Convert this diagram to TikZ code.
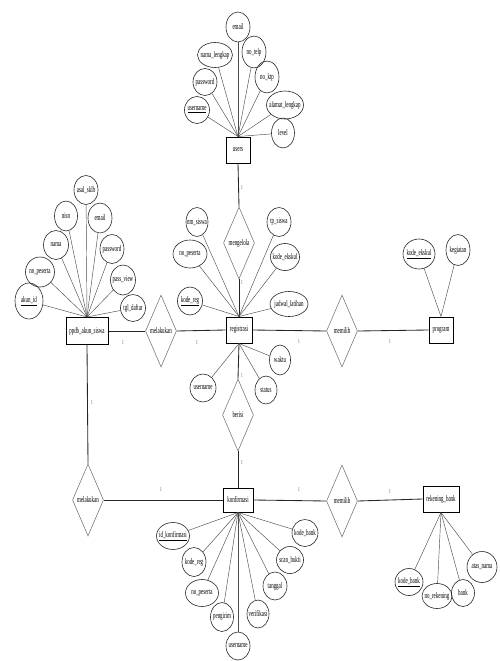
\documentclass[tikz,border=0pt]{standalone}
\usepackage{fontspec}
\setmainfont[FakeStretch=0.58]{Liberation Serif}
\usetikzlibrary{shapes.geometric}

\begin{document}
\begin{tikzpicture}[x=1pt,y=-1pt,
  every node/.style={font=\fontsize{8.5}{9.5}\selectfont},
  attr/.style n args={2}{ellipse, draw=black!85, line width=0.6pt, inner sep=0pt,
    minimum width=#1, minimum height=#2},
  entity/.style n args={2}{rectangle, draw=black, line width=1pt, inner sep=0pt,
    minimum width=#1, minimum height=#2},
  rel/.style={diamond, draw=black!55, line width=0.55pt, inner sep=0pt,
    minimum width=31pt, minimum height=72pt},
  att/.style={draw=black!70, line width=0.45pt},
  link/.style={draw=black!85, line width=0.85pt},
  card/.style={font=\fontsize{6}{6.5}\selectfont, text=black!70, inner sep=0pt}
]
\useasboundingbox (0,0) rectangle (499,661);

% ---------- entities ----------
\node[entity={24pt}{26pt}] (users) at (238,150) {users};
\node[entity={26pt}{26pt}] (registrasi) at (239,330) {registrasi};
\node[entity={24pt}{26pt}] (program) at (441,330) {program};
\node[entity={42pt}{27pt}] (ppdb) at (87,331) {ppdb\_akun\_siswa};
\node[entity={30pt}{24pt}] (konfirmasi) at (238,500) {konfirmasi};
\node[entity={36pt}{26pt}] (rekening) at (441,499) {rekening\_bank};

% ---------- relationships ----------
\node[rel, label=center:{mengelola}] (mengelola) at (239,243) {};
\node[rel, label=center:{melakukan}] (melakukanA) at (161,331) {};
\node[rel, label=center:{memilih}] (memilihA) at (342,331) {};
\node[rel, label=center:{berisi}] (berisi) at (238,415) {};
\node[rel, label=center:{melakukan}] (melakukanB) at (88,500) {};
\node[rel, label=center:{memilih}] (memilihB) at (342,501) {};

% ---------- relationship links ----------
\draw[link] (users.south) -- (mengelola.north);
\draw[link] (mengelola.south) -- (registrasi.north);
\draw[link] (ppdb.east) -- (melakukanA.west);
\draw[link] (melakukanA.east) -- (registrasi.west);
\draw[link] (registrasi.east) -- (memilihA.west);
\draw[link] (memilihA.east) -- (program.west);
\draw[link] (registrasi.south) -- (berisi.north);
\draw[link] (berisi.south) -- (konfirmasi.north);
\draw[link] (ppdb.south) -- (melakukanB.north);
\draw[link] (melakukanB.east) -- (konfirmasi.west);
\draw[link] (konfirmasi.east) -- (memilihB.west);
\draw[link] (memilihB.east) -- (rekening.west);

% ---------- cardinalities ----------
\node[card] (c1) at (242,188) {1};
\node[card] (c2) at (242,283) {1};
\node[card] (c3) at (123,343) {1};
\node[card] (c4) at (197,343) {1};
\node[card] (c5) at (299,342) {1};
\node[card] (c6) at (390,342) {1};
\node[card] (c7) at (242,376) {1};
\node[card] (c8) at (242,463) {1};
\node[card] (c9) at (92,403) {1};
\node[card] (c10) at (161,490) {1};
\node[card] (c11) at (299,490) {1};
\node[card] (c12) at (390,492) {1};

% ---------- users attributes ----------
\node[attr={24pt}{30pt}, label=center:{email}] (u1) at (238,27) {};
\node[attr={35pt}{25pt}, label=center:{nama\_lengkap}] (u2) at (215,55) {};
\node[attr={24pt}{32pt}, label=center:{no\_telp}] (u3) at (254,52) {};
\node[attr={24pt}{27pt}, label=center:{password}] (u4) at (205,82) {};
\node[attr={24pt}{32pt}, label=center:{no\_ktp}] (u5) at (267,77) {};
\node[attr={25pt}{27pt}, label=center:{\underline{username}}] (u6) at (197,110) {};
\node[attr={37pt}{28pt}, label=center:{alamat\_lengkap}] (u7) at (285,105) {};
\node[attr={23pt}{30pt}, label=center:{level}] (u8) at (283,133) {};
\foreach \a in {u1,u2,u3,u4,u5,u6,u7,u8} \draw[att] (users.north) -- (\a);

% ---------- ppdb_akun_siswa attributes ----------
\node[attr={24pt}{29pt}, label=center:{asal\_sklh}] (p1) at (86,190) {};
\node[attr={23pt}{30pt}, label=center:{nisn}] (p2) at (66,216) {};
\node[attr={24pt}{30pt}, label=center:{email}] (p3) at (100,218) {};
\node[attr={25pt}{29pt}, label=center:{nama}] (p4) at (56,245) {};
\node[attr={24pt}{29pt}, label=center:{password}] (p5) at (112,249) {};
\node[attr={29pt}{30pt}, label=center:{no\_peserta}] (p6) at (40,272) {};
\node[attr={25pt}{30pt}, label=center:{pass\_view}] (p7) at (123,280) {};
\node[attr={28pt}{36pt}, label=center:{\underline{akun\_id}}] (p8) at (29,301) {};
\node[attr={25pt}{27pt}, label=center:{tgl\_daftar}] (p9) at (133,308) {};
\foreach \a in {p1,p2,p3,p4,p5,p6,p7,p8,p9} \draw[att] (ppdb.north) -- (\a);

% ---------- registrasi attributes ----------
\node[attr={22pt}{29pt}, label=center:{nm\_siswa}] (r1) at (197,222) {};
\node[attr={24pt}{29pt}, label=center:{tp\_siswa}] (r2) at (279,222) {};
\node[attr={34pt}{28pt}, label=center:{no\_peserta}] (r3) at (190,254) {};
\node[attr={29pt}{27pt}, label=center:{kode\_ekskul}] (r4) at (285,257) {};
\node[attr={25pt}{28pt}, label=center:{\underline{kode\_reg}}] (r5) at (190,301) {};
\node[attr={38pt}{25pt}, label=center:{jadwal\_latihan}] (r6) at (289,304) {};
\foreach \a in {r1,r2,r3,r4,r5,r6} \draw[att] (registrasi.north) -- (\a);
\node[attr={21pt}{30pt}, label=center:{waktu}] (r7) at (280,360) {};
\node[attr={26pt}{28pt}, label=center:{username}] (r8) at (203,388) {};
\node[attr={22pt}{28pt}, label=center:{status}] (r9) at (266,390) {};
\foreach \a in {r7,r8,r9} \draw[att] (registrasi.south) -- (\a);

% ---------- program attributes ----------
\node[attr={32pt}{30pt}, label=center:{\underline{kode\_ekskul}}] (g1) at (419,254) {};
\node[attr={24pt}{31pt}, label=center:{kegiatan}] (g2) at (458,250) {};
\foreach \a in {g1,g2} \draw[att] (program.north) -- (\a);

% ---------- konfirmasi attributes ----------
\node[attr={33pt}{27pt}, label=center:{\underline{id\_konfirmasi}}] (k1) at (173,536) {};
\node[attr={24pt}{29pt}, label=center:{kode\_reg}] (k2) at (194,562) {};
\node[attr={33pt}{27pt}, label=center:{no\_peserta}] (k3) at (202,593) {};
\node[attr={23pt}{29pt}, label=center:{pengirim}] (k4) at (222,617) {};
\node[attr={24pt}{28pt}, label=center:{username}] (k5) at (238,646) {};
\node[attr={22pt}{28pt}, label=center:{verifikasi}] (k6) at (258,614) {};
\node[attr={24pt}{28pt}, label=center:{tanggal}] (k7) at (275,586) {};
\node[attr={27pt}{27pt}, label=center:{scan\_bukti}] (k8) at (290,560) {};
\node[attr={26pt}{27pt}, label=center:{kode\_bank}] (k9) at (305,533) {};
\foreach \a in {k1,k2,k3,k4,k5,k6,k7,k8,k9} \draw[att] (konfirmasi.south) -- (\a);

% ---------- rekening_bank attributes ----------
\node[attr={28pt}{27pt}, label=center:{\underline{kode\_bank}}] (b1) at (409,582) {};
\node[attr={30pt}{25pt}, label=center:{no\_rekening}] (b2) at (437,596) {};
\node[attr={23pt}{27pt}, label=center:{bank}] (b3) at (463,593) {};
\node[attr={30pt}{31pt}, label=center:{atas\_nama}] (b4) at (482,567) {};
\foreach \a in {b1,b2,b3,b4} \draw[att] (rekening.south) -- (\a);
\end{tikzpicture}
\end{document}
